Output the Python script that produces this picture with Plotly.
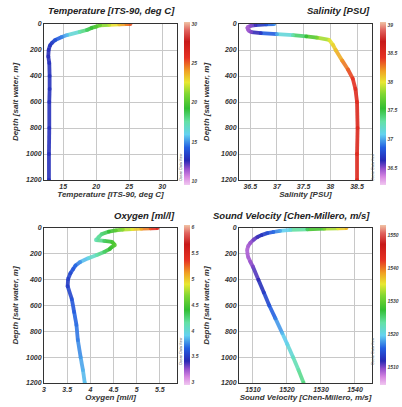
"""
Four CTD profile panels (ODV style): temperature, salinity, oxygen, sound velocity
"""
import plotly.graph_objects as go
from plotly.colors import sample_colorscale

# ---- data ----
temp_depth = [0, 1, 3, 6, 10, 20, 30, 46, 60, 85, 100, 123, 145, 165, 200, 250, 300, 400, 500, 600, 800, 1000, 1200]
temp_vals = [25.2, 24.6, 23.5, 22.0, 20.6, 20.0, 19.3, 18.6, 17.5, 15.6, 14.8, 13.8, 13.3, 13.0, 12.8, 12.75, 12.9, 12.95, 12.95, 12.9, 12.9, 12.85, 12.85]

sal_depth = [0, 3, 8, 15, 25, 35, 50, 62, 70, 78, 86, 95, 105, 123, 160, 200, 280, 350, 420, 500, 600, 800, 1000, 1200]
sal_vals = [36.95, 36.8, 36.6, 36.5, 36.45, 36.45, 36.47, 36.52, 36.7, 37.0, 37.3, 37.55, 37.75, 37.98, 38.05, 38.1, 38.22, 38.33, 38.42, 38.47, 38.5, 38.51, 38.5, 38.5]

oxy_depth = [0, 2, 5, 8, 12, 18, 28, 46, 70, 93, 100, 108, 120, 132, 150, 163, 185, 209, 235, 263, 290, 317, 350, 395, 450, 550, 650, 750, 867, 1000, 1100, 1200]
oxy_vals = [5.45, 5.3, 5.1, 4.9, 4.7, 4.55, 4.4, 4.25, 4.18, 4.12, 4.3, 4.47, 4.5, 4.53, 4.45, 4.42, 4.3, 4.14, 3.95, 3.78, 3.68, 3.63, 3.57, 3.52, 3.51, 3.6, 3.65, 3.7, 3.73, 3.79, 3.84, 3.88]

sv_depth = [0, 2, 5, 10, 15, 22, 31, 40, 55, 70, 90, 116, 140, 170, 200, 225, 260, 300, 400, 500, 600, 700, 813, 900, 1000, 1100, 1200]
sv_vals = [1537.5, 1535, 1531, 1526, 1521, 1518, 1516, 1514.2, 1512.5, 1511.3, 1510.2, 1509.2, 1508.6, 1508.3, 1508.4, 1508.6, 1509.2, 1510.0, 1511.6, 1513.2, 1514.8, 1516.6, 1518.6, 1520.1, 1521.8, 1523.4, 1524.9]

depth_ticks = [0, 200, 400, 600, 800, 1000, 1200]
temp_ticks = [15, 20, 25, 30]
sal_ticks = [36.5, 37, 37.5, 38, 38.5]
sal_ticklabels = ['36.5', '37', '37.5', '38', '38.5']
oxy_ticks = [3, 3.5, 4, 4.5, 5, 5.5]
oxy_ticklabels = ['3', '3.5', '4', '4.5', '5', '5.5']
sv_ticks = [1510, 1520, 1530, 1540]

temp_cbar_ticks = [10, 15, 20, 25, 30]
sal_cbar_ticks = [36.5, 37, 37.5, 38, 38.5, 39]
oxy_cbar_ticks = [3, 3.5, 4, 4.5, 5, 5.5, 6]
sv_cbar_ticks = [1510, 1520, 1530, 1540, 1550]

# ODV-like rainbow palette
odv_scale = [
    [0.00, 'rgb(240,200,240)'],
    [0.05, 'rgb(215,135,225)'],
    [0.10, 'rgb(150,80,205)'],
    [0.15, 'rgb(40,40,180)'],
    [0.23, 'rgb(35,95,225)'],
    [0.31, 'rgb(100,210,240)'],
    [0.39, 'rgb(100,225,165)'],
    [0.47, 'rgb(50,190,50)'],
    [0.56, 'rgb(130,215,50)'],
    [0.63, 'rgb(232,232,50)'],
    [0.70, 'rgb(240,160,35)'],
    [0.78, 'rgb(230,50,35)'],
    [0.88, 'rgb(200,25,25)'],
    [0.95, 'rgb(225,100,95)'],
    [1.00, 'rgb(240,195,165)'],
]

FONT = 'Liberation Sans'
W, H = 402, 407


def px_x(v):
    return v / W


def px_y(v):
    return 1 - v / H


panels = [
    dict(vals=temp_vals, depth=temp_depth, title='Temperature [ITS-90, deg C]',
         xr=[12.1, 32.25], ticks=temp_ticks, labels=[str(t) for t in temp_ticks],
         cr=[9.5, 30.3], cticks=temp_cbar_ticks, col=0, row=0),
    dict(vals=sal_vals, depth=sal_depth, title='Salinity [PSU]',
         xr=[36.29, 38.78], ticks=sal_ticks, labels=sal_ticklabels,
         cr=[36.2, 39.05], cticks=sal_cbar_ticks, col=1, row=0),
    dict(vals=oxy_vals, depth=oxy_depth, title='Oxygen [ml/l]',
         xr=[3.0, 5.87], ticks=oxy_ticks, labels=oxy_ticklabels,
         cr=[2.95, 6.05], cticks=oxy_cbar_ticks, col=0, row=1),
    dict(vals=sv_vals, depth=sv_depth, title='Sound Velocity [Chen-Millero, m/s]',
         xr=[1505.9, 1545.0], ticks=sv_ticks, labels=[str(t) for t in sv_ticks],
         cr=[1504.5, 1553], cticks=sv_cbar_ticks, col=1, row=1),
]

# pixel geometry of the plot areas
col_x = [(44, 177), (239, 372)]
row_y = [(24, 180), (228, 383)]
cbar_x = [184, 380]
cbar_y = [(22, 185), (225, 385)]
ytitle_standoff = [6, 10]

fig = go.Figure()
layout = {}
tick_font = dict(family=FONT, size=7, color='#333', weight='bold', style='italic')
title_font = dict(family=FONT, size=8, color='#333', weight='bold', style='italic')
annotations = []

for i, p in enumerate(panels):
    n = '' if i == 0 else str(i + 1)
    xa, ya = 'x' + n, 'y' + n
    x0, x1 = col_x[p['col']]
    y0, y1 = row_y[p['row']]
    lo, hi = p['cr']

    # coloured line segments
    for k in range(len(p['vals']) - 1):
        mid = (p['vals'][k] + p['vals'][k + 1]) / 2
        c = sample_colorscale(odv_scale, [(mid - lo) / (hi - lo)])[0]
        fig.add_trace(go.Scatter(
            x=p['vals'][k:k + 2], y=p['depth'][k:k + 2], xaxis=xa, yaxis=ya,
            mode='lines', line=dict(color=c, width=3.8), opacity=0.9,
            showlegend=False, hoverinfo='skip'))

    cy0, cy1 = cbar_y[p['row']]
    fig.add_trace(go.Scatter(
        x=p['vals'], y=p['depth'], xaxis=xa, yaxis=ya, mode='markers', showlegend=False,
        marker=dict(size=3.8, color=p['vals'], colorscale=odv_scale, cmin=lo, cmax=hi,
                    opacity=0.9, showscale=True,
                    colorbar=dict(x=px_x(cbar_x[p['col']]), xanchor='left',
                                  y=px_y((cy0 + cy1) / 2), yanchor='middle',
                                  len=cy1 - cy0, lenmode='pixels',
                                  thickness=6, thicknessmode='pixels',
                                  outlinewidth=0, ticks='', xpad=0, ypad=0,
                                  ticklabelposition='outside',
                                  tickvals=p['cticks'],
                                  tickfont=dict(family=FONT, size=5, color='#444',
                                                weight='bold', style='italic')))))

    layout['xaxis' + n] = dict(
        domain=[px_x(x0), px_x(x1)], anchor=ya, range=p['xr'],
        tickvals=p['ticks'], ticktext=p['labels'], tickfont=tick_font,
        showgrid=True, gridcolor='#c8c8c8', gridwidth=1, zeroline=False,
        showline=True, linecolor='#333', linewidth=1, mirror=True, ticks='',
        automargin=False,
        title=dict(text=p['title'], font=title_font, standoff=0))
    layout['yaxis' + n] = dict(
        domain=[px_y(y1), px_y(y0)], anchor=xa, range=[1200, 0],
        tickvals=depth_ticks, tickfont=tick_font,
        showgrid=True, gridcolor='#c8c8c8', gridwidth=1, zeroline=False,
        showline=True, linecolor='#333', linewidth=1, mirror=True, ticks='',
        automargin=False,
        title=dict(text='Depth [salt water, m]', font=title_font,
                   standoff=ytitle_standoff[p['col']]))

    annotations.append(dict(
        text=p['title'], x=px_x(x1), y=px_y(y0 - 13), xref='paper', yref='paper',
        xanchor='right', yanchor='middle', showarrow=False,
        font=dict(family=FONT, size=9.5, color='#222', weight='bold', style='italic')))
    annotations.append(dict(
        text='Ocean Data View', x=px_x(cbar_x[p['col']] - 3), y=px_y(cy1 - 18),
        xref='paper', yref='paper', textangle=-90, showarrow=False,
        font=dict(family=FONT, size=3.5, color='#555')))

fig.update_layout(
    width=W, height=H,
    margin=dict(l=0, r=0, t=0, b=0, autoexpand=False),
    paper_bgcolor='white', plot_bgcolor='white',
    annotations=annotations,
    **layout
)

# drop the browser's default page margin so the figure sits at the window corner
fig.write_html("out.html", config={'displayModeBar': False},
               post_script="document.body.style.margin='0';")
